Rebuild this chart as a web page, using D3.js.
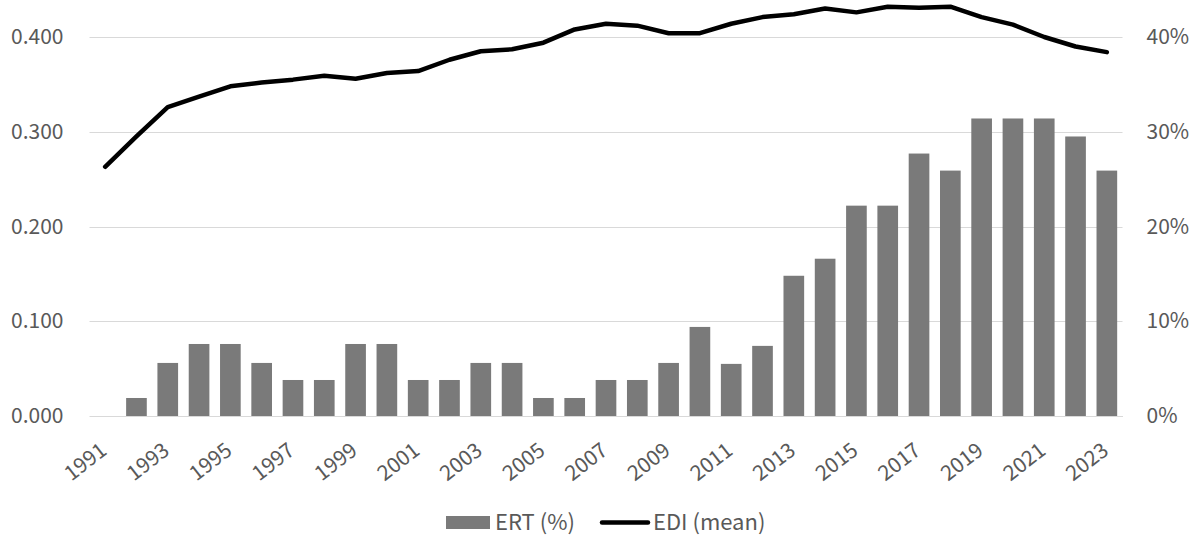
<!DOCTYPE html>
<html>
<head>
<meta charset="utf-8">
<script src="https://cdn.jsdelivr.net/npm/d3@7"></script>
<style>
  html, body { margin: 0; padding: 0; background: #fff; }
  svg { display: block; font-family: "Noto Sans CJK JP", "Noto Sans", sans-serif; }
</style>
</head>
<body>
<svg id="chart" width="1200" height="535"></svg>
<script>
// Years on the category axis
const years = d3.range(1991, 2024).map(String);

// ERT share (%), right axis, drawn as bars
const ertPct = [
  0, 1.9, 5.6, 7.6, 7.6, 5.6, 3.8, 3.8, 7.6, 7.6,
  3.8, 3.8, 5.6, 5.6, 1.9, 1.9, 3.8, 3.8, 5.6, 9.4,
  5.5, 7.4, 14.8, 16.6, 22.2, 22.2, 27.7, 25.9, 31.4, 31.4,
  31.4, 29.5, 25.9
];

// EDI mean, left axis, drawn as a line
const ediMean = [
  0.263, 0.295, 0.326, 0.337, 0.348, 0.352, 0.355, 0.359, 0.356, 0.362,
  0.364, 0.376, 0.385, 0.387, 0.394, 0.408, 0.414, 0.412, 0.404, 0.404,
  0.414, 0.421, 0.424, 0.430, 0.426, 0.432, 0.431, 0.432, 0.421, 0.413,
  0.400, 0.390, 0.384
];

const leftTicks = [0, 0.1, 0.2, 0.3, 0.4];
const rightTicks = [0, 10, 20, 30, 40];
const yearTicks = years.filter((d, i) => i % 2 === 0);

const svg = d3.select("#chart");
const plot = { left: 89.5, right: 1122.5, top: 37, bottom: 416 };

const x = d3.scaleBand().domain(years).range([plot.left, plot.right]).paddingInner(0.34).paddingOuter(0.17);
const yL = d3.scaleLinear().domain([0, 0.4]).range([plot.bottom, plot.top]);
const yR = d3.scaleLinear().domain([0, 40]).range([plot.bottom, plot.top]);

const labelColor = "#595959";
const fontSize = 21;

// Strip d3's default axis font so the page font applies
function styleAxis(g) {
  g.attr("font-family", null).attr("font-size", fontSize);
  g.selectAll("text").attr("fill", labelColor);
}

// Horizontal gridlines
svg.append("g")
  .selectAll("line")
  .data(leftTicks)
  .join("line")
  .attr("x1", plot.left).attr("x2", plot.right)
  .attr("y1", d => Math.round(yL(d)) + 0.5).attr("y2", d => Math.round(yL(d)) + 0.5)
  .attr("stroke", "#d9d9d9").attr("stroke-width", 1);

// Left axis
const leftAxis = svg.append("g")
  .attr("transform", `translate(${plot.left},0)`)
  .call(d3.axisLeft(yL).tickValues(leftTicks).tickFormat(d3.format(".3f")).tickSize(0).tickPadding(26))
  .call(styleAxis);
leftAxis.select(".domain").remove();

// Right axis
const rightAxis = svg.append("g")
  .attr("transform", `translate(${plot.right},0)`)
  .call(d3.axisRight(yR).tickValues(rightTicks).tickFormat(d => d + "%").tickSize(0).tickPadding(24))
  .call(styleAxis);
rightAxis.select(".domain").remove();

// Bars
svg.append("g")
  .selectAll("rect")
  .data(years.map((y, i) => ({ year: y, v: ertPct[i] })).filter(d => d.v > 0))
  .join("rect")
  .attr("x", d => x(d.year))
  .attr("width", x.bandwidth())
  .attr("y", d => yR(d.v))
  .attr("height", d => yR(0) - yR(d.v))
  .attr("fill", "#7a7a7a");

// Bottom axis with rotated year labels
const bottomAxis = svg.append("g")
  .attr("transform", `translate(0,${plot.bottom})`)
  .call(d3.axisBottom(x).tickValues(yearTicks).tickSize(0).tickPadding(0))
  .call(styleAxis);
bottomAxis.select(".domain").attr("stroke", "#d9d9d9");
bottomAxis.selectAll("text")
  .attr("text-anchor", "end")
  .attr("y", 0)
  .attr("dy", null)
  .attr("transform", "translate(3,37) rotate(-38)");

// EDI line
const line = d3.line()
  .x((d, i) => x(years[i]) + x.bandwidth() / 2)
  .y(d => yL(d));
svg.append("path")
  .datum(ediMean)
  .attr("d", line)
  .attr("fill", "none")
  .attr("stroke", "#000")
  .attr("stroke-width", 4.5)
  .attr("stroke-linejoin", "round")
  .attr("stroke-linecap", "round");

// Legend
const legend = svg.append("g").attr("font-size", 22).attr("fill", labelColor);
legend.append("rect").attr("x", 446).attr("y", 516).attr("width", 44).attr("height", 13).attr("fill", "#7a7a7a");
legend.append("text").attr("x", 495).attr("y", 522.5).attr("dy", "0.35em").text("ERT (%)");
legend.append("line").attr("x1", 602).attr("x2", 648).attr("y1", 522.5).attr("y2", 522.5)
  .attr("stroke", "#000").attr("stroke-width", 4.5).attr("stroke-linecap", "round");
legend.append("text").attr("x", 653).attr("y", 522.5).attr("dy", "0.35em").text("EDI (mean)");
</script>
</body>
</html>
